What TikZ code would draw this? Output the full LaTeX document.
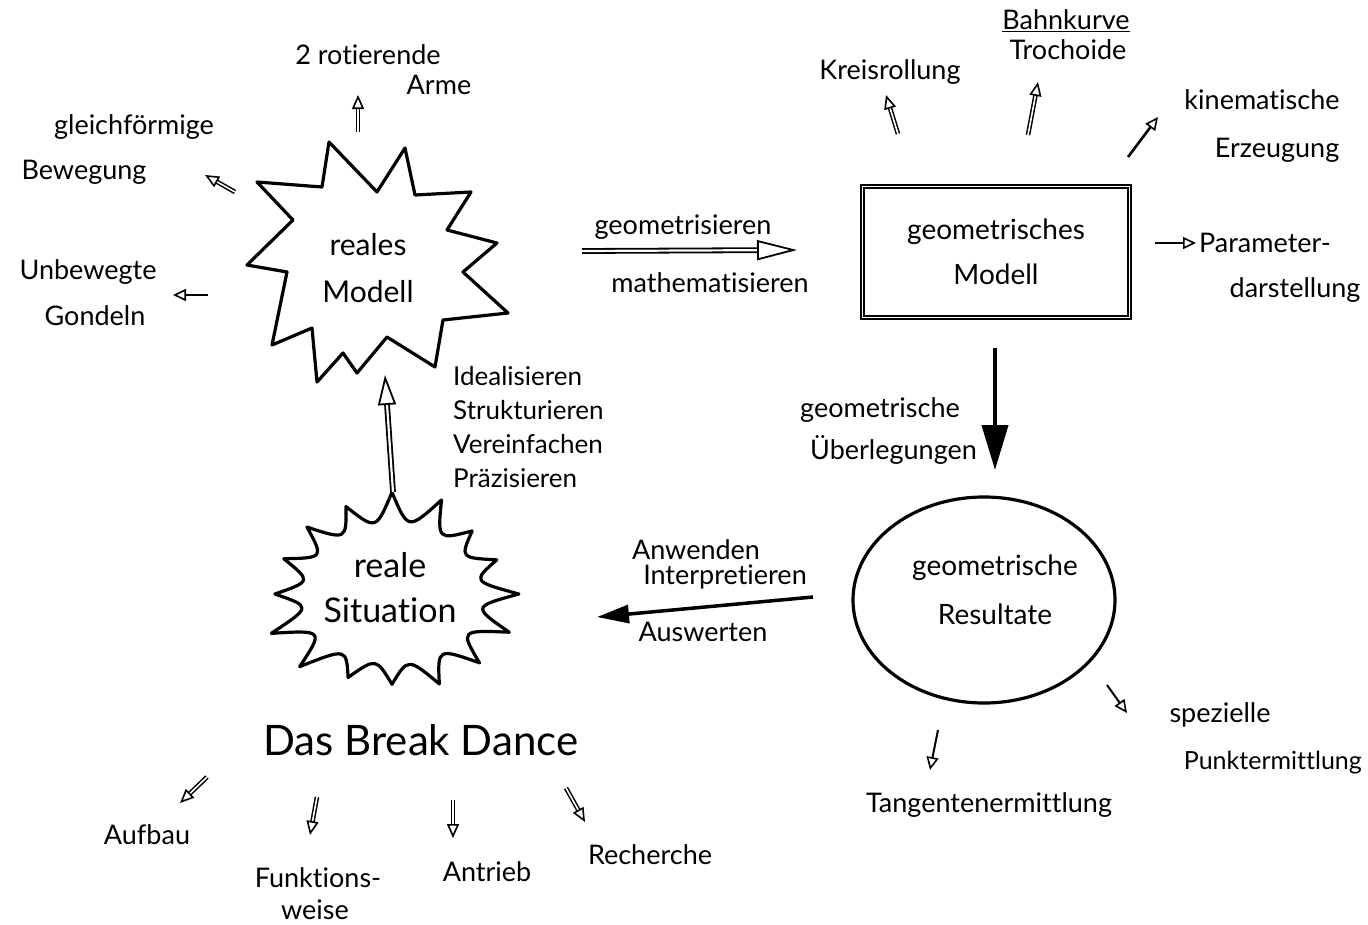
\documentclass[tikz,border=0pt]{standalone}
\usepackage{fontspec}
\setmainfont{Lato}[Ligatures=NoCommon]
\usetikzlibrary{arrows.meta,shapes.geometric}
\begin{document}
\begin{tikzpicture}[x=1pt,y=-1pt,
  lbl/.style={font=\fontsize{27}{32}\selectfont, inner sep=0pt, align=center},
  big/.style={font=\fontsize{30}{47}\selectfont, inner sep=0pt, align=center},
  shp/.style={line width=3.2pt, line join=round},
  sarr/.style={line width=2pt, -{Triangle[open, length=13pt, width=12pt, line width=1.6pt]}},
  darr/.style={double, double distance=1.6pt, line width=1.5pt, -{Triangle[open, length=14pt, width=12pt, line width=1.6pt]}},
  bigdarr/.style={double, double distance=2.2pt, line width=1.8pt, -{Triangle[open, length=40pt, width=20pt, line width=1.8pt]}},
  updarr/.style={double, double distance=2.2pt, line width=1.8pt, -{Triangle[open, length=30pt, width=18pt, line width=1.8pt]}},
  downarr/.style={line width=4pt, -{Triangle[length=45pt, width=26pt]}},
  leftarr/.style={line width=3.5pt, -{Triangle[length=32pt, width=18pt]}}
]
\useasboundingbox (0,0) rectangle (1368,924);

% ---- reales Modell (star) ----
\draw[shp] (329,142) -- (377,192) -- (405,148) -- (415,195) -- (471,192) -- (447,230) -- (497,243) -- (463,272) -- (508,313) -- (443,320) -- (435,367) -- (387,337) -- (357,373) -- (343,353) -- (317,382) -- (312,328) -- (272,345) -- (287,272) -- (247,265) -- (293,220) -- (257,182) -- (322,187) -- cycle;
\node[big] (rm) at (368,268) {reales\\Modell};

% ---- geometrisches Modell (box) ----
\node[draw, double, double distance=1.4pt, line width=1.9pt, minimum width=267pt, minimum height=131pt, inner sep=0pt, font=\fontsize{28}{45}\selectfont, align=center] (gm) at (996,252) {geometrisches\\Modell};

% ---- geometrische Resultate (ellipse) ----
\node[ellipse, draw, shp, minimum width=262pt, minimum height=206pt] (gr) at (984,600) {};
\node[font=\fontsize{28}{49}\selectfont, inner sep=0pt, align=center] (grt) at (995,590) {geometrische\\Resultate};

% ---- reale Situation (burst) ----
\draw[shp] ({392+122*(1+0.06*sin(0)+0.04*cos(0))},594)
  \foreach \i in {1,...,16} {
    .. controls ({392+82*cos(\i*22.5-11.25)},{594+65*sin(\i*22.5-11.25)}) ..
    ({392+122*(1+0.06*sin(\i*67.5)+0.04*cos(\i*112.5))*cos(\i*22.5)},{594+96*(1+0.06*sin(\i*67.5)+0.04*cos(\i*112.5))*sin(\i*22.5)})
  } -- cycle;
\node[font=\fontsize{34}{45}\selectfont, inner sep=0pt, align=center] (rs) at (390,588) {reale\\Situation};

% ---- main connectors ----
\coordinate (gs) at (582,251); \coordinate (ge) at (797,250);
\draw[bigdarr] (gs) -- (ge);
\node[lbl] (geo1) at (683,227) {geometrisieren};
\node[lbl] (geo2) at (710,283) {mathematisieren};

\coordinate (ds) at (995,348); \coordinate (de) at (995,470);
\draw[downarr] (ds) -- (de);
\node[lbl, font=\fontsize{27}{42}\selectfont] (ue) at (880,431) {geometrische\\\hspace*{1em}Überlegungen};

\coordinate (ls) at (813,597); \coordinate (le) at (597,617);
\draw[leftarr] (ls) -- (le);
\node[lbl] (an1) at (696,550) {Anwenden};
\node[lbl] (an2) at (725,577) {Interpretieren};
\node[lbl] (an3) at (703,632) {Auswerten};

\coordinate (us) at (393,492); \coordinate (ueu) at (385,375);
\draw[updarr] (us) -- (ueu);
\node[lbl, anchor=west, align=left, font=\fontsize{26}{34}\selectfont] (id) at (453,427) {Idealisieren\\Strukturieren\\Vereinfachen\\Präzisieren};

% ---- reales Modell satellites ----
\coordinate (r1s) at (358,132); \coordinate (r1e) at (358,95);
\draw[darr] (r1s) -- (r1e);
\node[lbl] (rot1) at (368,55) {2 rotierende};
\node[lbl] (rot2) at (439,85) {Arme};

\coordinate (g1s) at (235,192); \coordinate (g1e) at (205,175);
\draw[darr] (g1s) -- (g1e);
\node[lbl] (gl1) at (134,127) {gleichförmige};
\node[lbl] (gl2) at (84,172) {Bewegung};

\coordinate (u1s) at (208,295); \coordinate (u1e) at (173,295);
\draw[sarr] (u1s) -- (u1e);
\node[lbl] (un1) at (88,272) {Unbewegte};
\node[lbl] (un2) at (95,316) {Gondeln};

% ---- geometrisches Modell satellites ----
\coordinate (k1s) at (898,134); \coordinate (k1e) at (886,95);
\draw[darr] (k1s) -- (k1e);
\node[lbl] (kr) at (890,72) {Kreisrollung};

\coordinate (b1s) at (1028,135); \coordinate (b1e) at (1038,82);
\draw[darr] (b1s) -- (b1e);
\node[lbl] (bk1) at (1066,21) {\underline{Bahnkurve}};
\node[lbl] (bk2) at (1068,50) {Trochoide};

\coordinate (ki1s) at (1128,157); \coordinate (ki1e) at (1158,117);
\draw[sarr, line width=2.6pt] (ki1s) -- (ki1e);
\node[lbl] (ki1) at (1262,100) {kinematische};
\node[lbl] (ki2) at (1277,150) {Erzeugung};

\coordinate (p1s) at (1155,243); \coordinate (p1e) at (1196,243);
\draw[sarr, line width=2.6pt] (p1s) -- (p1e);
\node[lbl] (pa1) at (1265,243) {Parameter-};
\node[lbl] (pa2) at (1295,290) {darstellung};

% ---- Resultate satellites ----
\coordinate (t1s) at (938,730); \coordinate (t1e) at (930,770);
\draw[sarr] (t1s) -- (t1e);
\node[lbl] (tg) at (989,805) {Tangentenermittlung};

\coordinate (s1s) at (1107,685); \coordinate (s1e) at (1127,713);
\draw[sarr] (s1s) -- (s1e);
\node[lbl] (sp1) at (1220,715) {spezielle};
\node[lbl, anchor=east, font=\fontsize{25}{30}\selectfont] (sp2) at (1362,763) {Punktermittlung};

% ---- Break Dance ----
\node[inner sep=0pt, font=\fontsize{42}{48}\selectfont] (dbd) at (421,740) {Das Break Dance};

\coordinate (a1s) at (207,777); \coordinate (a1e) at (180,803);
\draw[darr] (a1s) -- (a1e);
\node[lbl] (auf) at (147,835) {Aufbau};

\coordinate (f1s) at (317,797); \coordinate (f1e) at (310,835);
\draw[darr] (f1s) -- (f1e);
\node[lbl] (fw1) at (318,878) {Funktions-};
\node[lbl] (fw2) at (315,910) {weise};

\coordinate (n1s) at (453,800); \coordinate (n1e) at (453,838);
\draw[darr] (n1s) -- (n1e);
\node[lbl] (ant) at (487,872) {Antrieb};

\coordinate (c1s) at (566,788); \coordinate (c1e) at (585,822);
\draw[darr] (c1s) -- (c1e);
\node[lbl] (rec) at (650,855) {Recherche};
\end{tikzpicture}
\end{document}
